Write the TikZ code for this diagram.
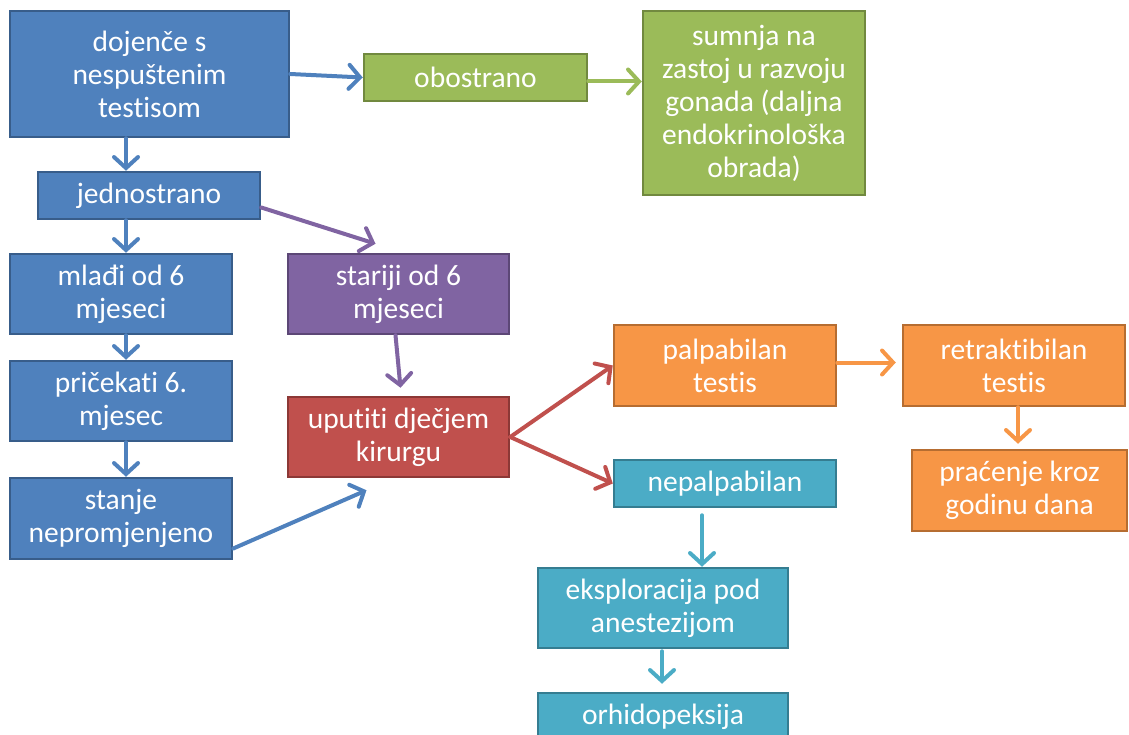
\documentclass[tikz,border=0pt]{standalone}
\usepackage{fontspec}
\setmainfont{Carlito}[Ligatures={NoCommon,NoContextual}]
\usetikzlibrary{arrows.meta}
\definecolor{bluef}{HTML}{4F81BD}\definecolor{blued}{HTML}{385D8A}
\definecolor{greenf}{HTML}{9BBB59}\definecolor{greend}{HTML}{71893F}
\definecolor{purpf}{HTML}{8064A2}\definecolor{purpd}{HTML}{5C4776}
\definecolor{redf}{HTML}{C0504D}\definecolor{redd}{HTML}{8C3836}
\definecolor{orgf}{HTML}{F79646}\definecolor{orgd}{HTML}{B66D31}
\definecolor{aquaf}{HTML}{4BACC6}\definecolor{aquad}{HTML}{357D91}
\tikzset{
  box/.style={draw, line width=2.5pt, text=white, align=center, inner sep=0pt,
    font=\fontsize{29.5pt}{33pt}\selectfont},
  bbox/.style={box, fill=bluef, draw=blued},
  gbox/.style={box, fill=greenf, draw=greend},
  pbox/.style={box, fill=purpf, draw=purpd},
  rbox/.style={box, fill=redf, draw=redd},
  obox/.style={box, fill=orgf, draw=orgd},
  abox/.style={box, fill=aquaf, draw=aquad},
  conn/.style={line width=4pt, line cap=round, -{Straight Barb[length=11pt,width=24pt,line cap=round]}},
}
\begin{document}
\begin{tikzpicture}[x=1pt,y=-1pt]
\useasboundingbox (0,0) rectangle (1129,735);
\clip (0,0) rectangle (1129,735);
\node[bbox, minimum width=279pt, minimum height=126pt] (doj) at (149.5,74) {dojenče s\\nespuštenim\\testisom};
\node[gbox, minimum width=223pt, minimum height=47pt] (obo) at (475.5,77.5) {obostrano};
\node[gbox, minimum width=222pt, minimum height=184pt] (sum) at (754,103) {sumnja na\\zastoj u razvoju\\gonada (daljna\\endokrinološka\\obrada)};
\node[bbox, minimum width=222pt, minimum height=47pt] (jed) at (149,195.5) {jednostrano};
\node[bbox, minimum width=222pt, minimum height=80pt] (mla) at (121,294) {mlađi od 6\\mjeseci};
\node[pbox, minimum width=221pt, minimum height=80pt] (sta6) at (398.5,294) {stariji od 6\\mjeseci};
\node[bbox, minimum width=222pt, minimum height=80pt] (pri) at (121,401) {pričekati 6.\\mjesec};
\node[rbox, minimum width=221pt, minimum height=80pt] (upu) at (398.5,437) {uputiti dječjem\\kirurgu};
\node[bbox, minimum width=222pt, minimum height=81pt] (sta) at (121,518.5) {stanje\\nepromjenjeno};
\node[obox, minimum width=222pt, minimum height=81pt] (pal) at (725,365.5) {palpabilan\\testis};
\node[obox, minimum width=222pt, minimum height=81pt] (ret) at (1014,365.5) {retraktibilan\\testis};
\node[abox, minimum width=222pt, minimum height=47pt] (nep) at (725,483.5) {nepalpabilan};
\node[obox, minimum width=215pt, minimum height=81pt] (pra) at (1019.5,490.5) {praćenje kroz\\godinu dana};
\node[abox, minimum width=250pt, minimum height=80pt] (eks) at (663,608) {eksploracija pod\\anestezijom};
\node[abox, minimum width=250pt, minimum height=47pt] (orh) at (663,716.5) {orhidopeksija};
\coordinate (xa) at (126,0);
\coordinate (xb) at (1018,0);
\coordinate (xc) at (702,0);
\coordinate (xd) at (662,0);
\draw[conn, bluef] (doj.east) -- (obo.west);
\draw[conn, greenf] ([yshift=-4pt]obo.east) -- ([yshift=-4pt]obo.east -| sum.west);
\draw[conn, bluef] (doj.south -| xa) -- (jed.north -| xa);
\draw[conn, bluef] (jed.south -| xa) -- (mla.north -| xa);
\draw[conn, bluef] (mla.south -| xa) -- (pri.north -| xa);
\draw[conn, bluef] (pri.south -| xa) -- (sta.north -| xa);
\draw[conn, purpf] ([yshift=-12pt]jed.east) -- ([xshift=-23pt,yshift=9pt]sta6.north);
\draw[conn, purpf] ([xshift=-3pt]sta6.south) -- ([xshift=2pt,yshift=8pt]upu.north);
\draw[conn, bluef] ([yshift=-30pt]sta.east) -- ([xshift=-32pt,yshift=-12pt]upu.south);
\draw[conn, redf] (upu.east) -- (pal.west);
\draw[conn, redf] (upu.east) -- (nep.west);
\draw[conn, orgf] ([yshift=3pt]pal.east) -- ([xshift=-6pt,yshift=3pt]ret.west);
\draw[conn, orgf] (ret.south -| xb) -- ([yshift=5pt]pra.north -| xb);
\draw[conn, aquaf] ([yshift=-7pt]nep.south -| xc) -- (eks.north -| xc);
\draw[conn, aquaf] ([yshift=-2pt]eks.south -| xd) -- ([yshift=8pt]orh.north -| xd);
\end{tikzpicture}
\end{document}
